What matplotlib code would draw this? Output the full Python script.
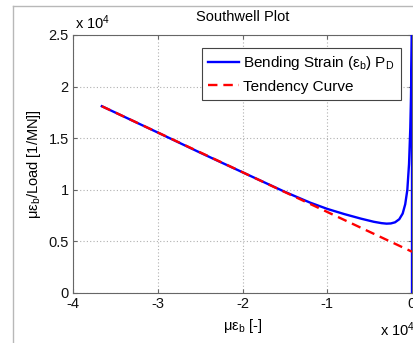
import matplotlib
matplotlib.use("Agg")
import matplotlib.pyplot as plt
from matplotlib.lines import Line2D
from matplotlib.ticker import FuncFormatter

plt.rcParams.update({
    "font.family": ["Liberation Sans", "DejaVu Sans"],
    "font.size": 10.5,
    "mathtext.fontset": "custom",
    "mathtext.rm": "Liberation Sans",
    "mathtext.it": "Liberation Sans:italic",
})

# bending strain (x) vs strain/load (y), raw units
bend_x = [-36600, -30000, -25000, -20000, -15000, -12000, -10000, -8000, -6000,
          -4500, -3600, -3000, -2500, -2000, -1500, -1100, -800, -550, -350,
          -200, -120, -50, 0, 0]
bend_y = [18100, 15550, 13600, 11700, 9800, 8750, 8150, 7650, 7200,
          6900, 6770, 6720, 6740, 6850, 7150, 7700, 8600, 10000, 12500,
          16000, 19000, 23000, 26000, -1000]

# tendency line end points
tend_x = [-36600, 0]
tend_y = [18100, 4000]

fig = plt.figure(figsize=(4.13, 3.43), dpi=100)
ax = fig.add_axes([73 / 413, 1 - 293 / 343, 339 / 413, 258 / 343])

ax.plot(bend_x, bend_y, color="#0000ff", lw=1.7, label=r"Bending Strain (ε$_{\mathrm{b}}$) P$_{\mathrm{D}}$",
        zorder=3)
ax.plot(tend_x, tend_y, color="#ff0000", lw=1.7, ls=(0, (4, 2.5)), label="Tendency Curve", zorder=4)

ax.set_xlim(-40000, 0)
ax.set_ylim(0, 25000)
ax.set_xticks([-40000, -30000, -20000, -10000, 0])
ax.set_yticks([0, 5000, 10000, 15000, 20000, 25000])
fmt = FuncFormatter(lambda v, p: f"{v / 1e4:g}")
ax.xaxis.set_major_formatter(fmt)
ax.yaxis.set_major_formatter(fmt)

ax.grid(True, ls=(0, (1, 2)), color="#b0b0b0", lw=0.8)
for s in ax.spines.values():
    s.set_color("#666666")
    s.set_linewidth(0.8)
ax.tick_params(direction="in", length=3, color="#666666", labelcolor="#111111",
               top=True, right=True, pad=3)

ax.set_title("Southwell Plot", fontsize=10.5, pad=10)
ax.set_xlabel(r"με$_{\mathrm{b}}$ [-]", labelpad=4)
ax.set_ylabel(r"με$_{\mathrm{b}}$/Load [1/MN]]", labelpad=4)

# exponent labels
fig.text(75 / 413, 1 - 23 / 343, r"x 10$^{4}$", fontsize=10.5, va="center", ha="left")
fig.text(380 / 413, 1 - 330 / 343, r"x 10$^{4}$", fontsize=10.5, va="center", ha="left")

leg = ax.legend(loc="upper right", bbox_to_anchor=(0.99, 0.98), fancybox=False,
                edgecolor="#444444", framealpha=1, handlelength=2.0,
                borderpad=0.4, labelspacing=0.5, handletextpad=0.3, fontsize=11)
leg.get_frame().set_linewidth(0.8)

# window border of the screenshot
fig.add_artist(Line2D([13 / 413, 13 / 413], [0, 1 - 6 / 343], color="#b8b8b8", lw=1))
fig.add_artist(Line2D([13 / 413, 1], [1 - 6 / 343, 1 - 6 / 343], color="#b8b8b8", lw=1))

fig.savefig("out.png", dpi=100)
